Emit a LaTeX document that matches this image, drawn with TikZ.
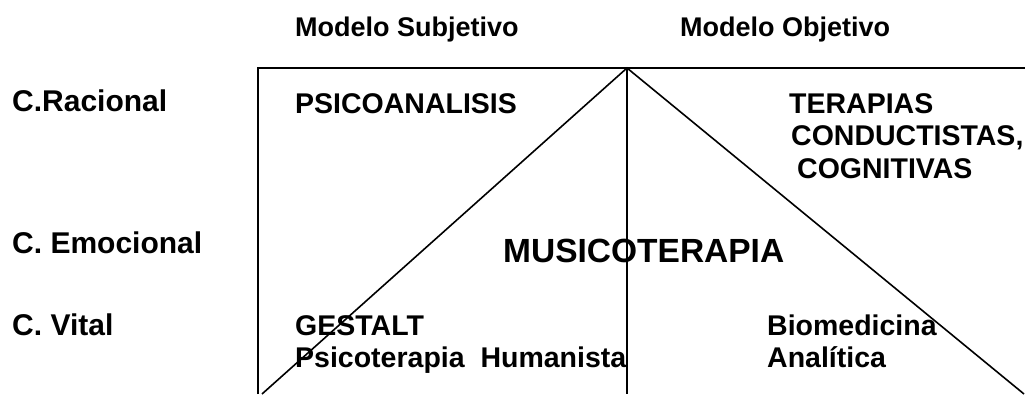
\documentclass[tikz,border=0pt]{standalone}
\usepackage{fontspec}
\setmainfont{Liberation Sans}
\usetikzlibrary{positioning}

\begin{document}
\begin{tikzpicture}[x=1pt,y=-1pt,
    frame/.style={line width=1.6pt},
    level/.style={anchor=base west, inner sep=0pt, font=\fontsize{30}{36}\selectfont\bfseries},
    head/.style={anchor=base west, inner sep=0pt, font=\fontsize{27}{32}\selectfont\bfseries},
    field/.style={anchor=base west, inner sep=0pt, font=\fontsize{28.5}{34}\selectfont\bfseries}]
  \useasboundingbox (0,0) rectangle (1025,394);
  % frame and the two slopes from the apex
  \coordinate (tl) at (258,68);
  \coordinate (apex) at (627,68);
  \coordinate (tr) at (1025,68);
  \coordinate (bl) at (258,394);
  \coordinate (bm) at (627,394);
  \coordinate (dl) at (262,394);
  \coordinate (dr) at (1024,394);
  \draw[frame] (bl) -- (tl) -- (tr);
  \draw[frame] (apex) -- (bm);
  \draw[frame] (dl) -- (apex) -- (dr);
  % column heads
  \node[head] (subj) at (295,36) {Modelo Subjetivo};
  \node[head] (obj) at (680,36) {Modelo Objetivo};
  % levels
  \node[level] (rac) at (12,111) {C.Racional};
  \node[level] (emo) at (12,253) {C. Emocional};
  \node[level] (vit) at (12,335) {C. Vital};
  % therapies
  \node[field] (psico) at (295,113) {PSICOANALISIS};
  \node[field] (ter) at (789,113) {TERAPIAS};
  \node[field] (cond) at (791,145) {CONDUCTISTAS,};
  \node[field] (cogn) at (797,178) {COGNITIVAS};
  \node[anchor=base west, inner sep=0pt, font=\fontsize{33.5}{40}\selectfont\bfseries] (musico) at (503,262) {MUSICOTERAPIA};
  \node[field] (gest) at (295,335) {GESTALT};
  \node[field] (human) at (295,367) {Psicoterapia\ \ Humanista};
  \node[field] (biomed) at (767,335) {Biomedicina};
  \node[field] (anal) at (767,367) {Analítica};
\end{tikzpicture}
\end{document}
